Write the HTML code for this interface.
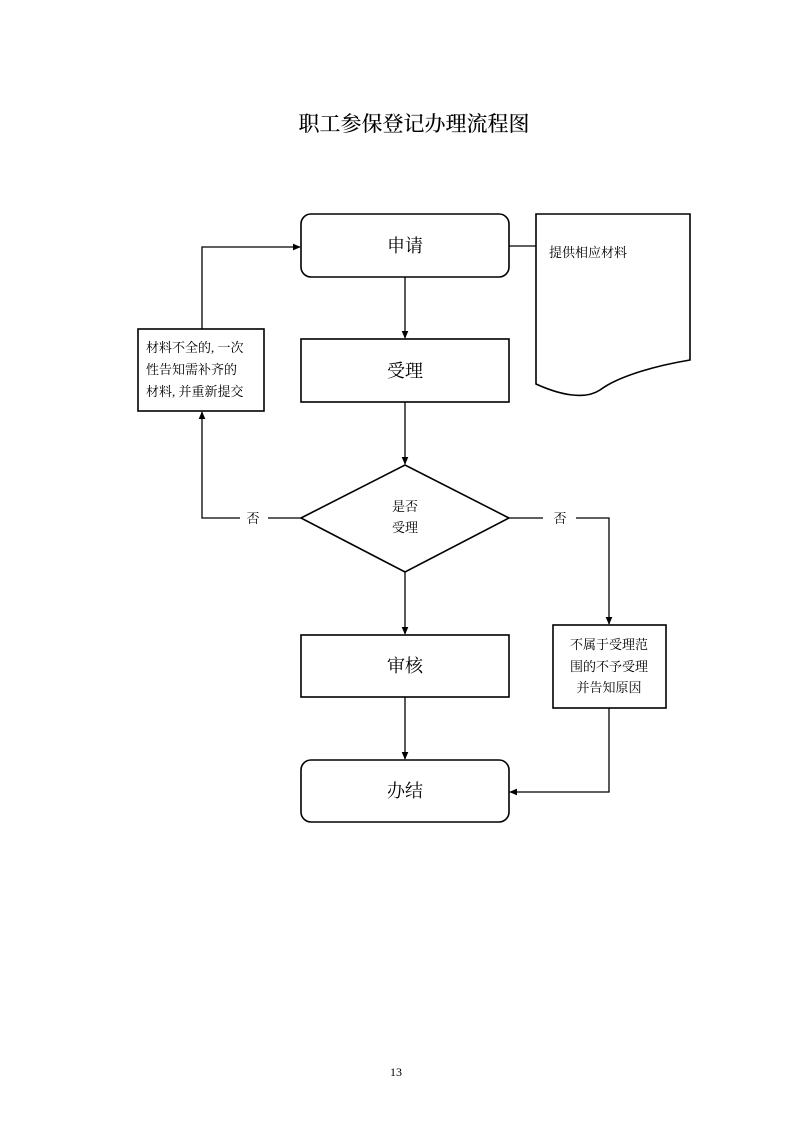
<!DOCTYPE html>
<html><head><meta charset="utf-8"><style>
html,body{margin:0;padding:0;background:#fff;}
svg{display:block;}
text{font-family:"Liberation Serif","Noto Serif CJK SC","Noto Sans CJK SC",serif;fill:#000;}
</style></head><body>
<svg width="793" height="1122" viewBox="0 0 793 1122" xmlns="http://www.w3.org/2000/svg">
<defs><marker id="a" markerWidth="8" markerHeight="8" refX="7" refY="4" orient="auto" markerUnits="userSpaceOnUse"><path d="M0,1 L7,4 L0,7 Z" fill="#000" stroke="#000" stroke-width="0.6"/></marker></defs>
<text x="414" y="131" font-size="21" text-anchor="middle" font-family="Noto Sans CJK SC,sans-serif" font-weight="500">职工参保登记办理流程图</text>
<g fill="none" stroke="#000" stroke-width="1.6">
<rect x="301" y="214" width="208" height="63" rx="10"/>
<rect x="301" y="339" width="208" height="63"/>
<rect x="138" y="329" width="126" height="82"/>
<path d="M301,518 L405,465 L509,518 L405,572 Z"/>
<rect x="301" y="635" width="208" height="62"/>
<rect x="301" y="760" width="208" height="62" rx="10"/>
<rect x="553" y="625" width="113" height="83"/>
<path d="M536,214 L690,214 L690,360 C660,365 620,375 600,390 C585,400 560,395 536,384 Z"/>
</g>
<g fill="none" stroke="#000" stroke-width="1.3">
<line x1="509" y1="246" x2="536" y2="246"/>
<line x1="405" y1="277" x2="405" y2="338" marker-end="url(#a)"/>
<line x1="405" y1="402" x2="405" y2="464" marker-end="url(#a)"/>
<line x1="405" y1="572" x2="405" y2="634" marker-end="url(#a)"/>
<line x1="405" y1="697" x2="405" y2="759" marker-end="url(#a)"/>
<path d="M202,329 L202,247 L300,247" marker-end="url(#a)"/>
<path d="M301,518 L268,518 M240,518 L202,518 L202,412" marker-end="url(#a)"/>
<path d="M509,518 L543,518 M576,518 L609,518 L609,624" marker-end="url(#a)"/>
<path d="M609,708 L609,792 L510,792" marker-end="url(#a)"/>
</g>
<g font-family="Noto Sans CJK SC,sans-serif" font-size="18" text-anchor="middle">
<text x="405" y="252">申请</text>
<text x="405" y="377">受理</text>
<text x="405" y="672">审核</text>
<text x="405" y="797">办结</text>
</g>
<g font-size="13">
<text x="549" y="257">提供相应材料</text>
<text x="146" y="352">材料不全的, 一次</text>
<text x="146" y="374">性告知需补齐的</text>
<text x="146" y="396">材料, 并重新提交</text>
<text x="405" y="511" text-anchor="middle">是否</text>
<text x="405" y="532" text-anchor="middle">受理</text>
<text x="253" y="523" text-anchor="middle">否</text>
<text x="560" y="523" text-anchor="middle">否</text>
<text x="609" y="649" text-anchor="middle">不属于受理范</text>
<text x="609" y="671" text-anchor="middle">围的不予受理</text>
<text x="609" y="692" text-anchor="middle">并告知原因</text>
<text x="396" y="1076" text-anchor="middle" font-size="12">13</text>
</g>
</svg>
</body></html>
